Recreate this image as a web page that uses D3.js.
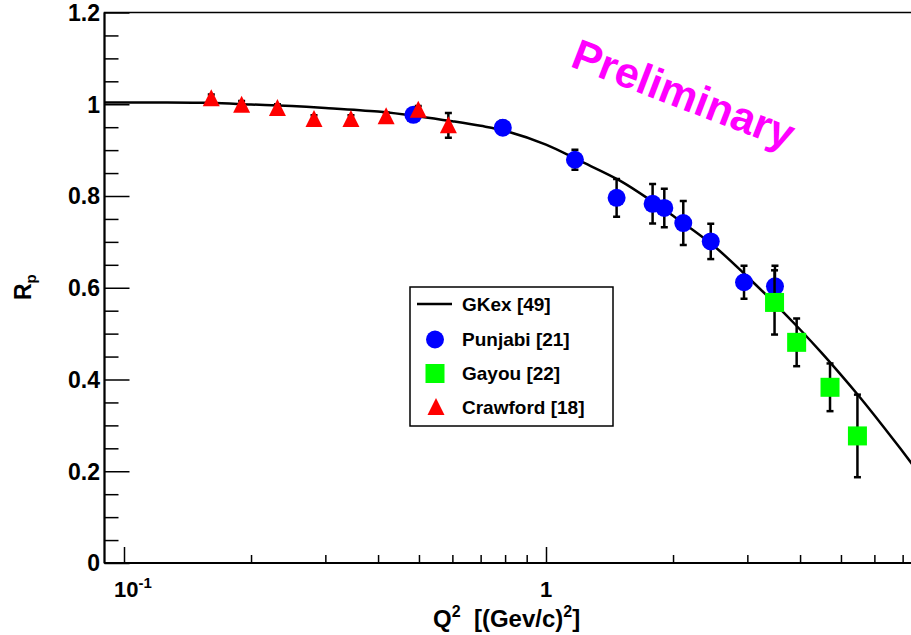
<!DOCTYPE html>
<html>
<head>
<meta charset="utf-8">
<script src="https://cdn.jsdelivr.net/npm/d3@7"></script>
<style>
  html, body { margin: 0; padding: 0; background: #fff; }
  svg { display: block; }
  text { font-family: "Liberation Sans", Arial, Helvetica, sans-serif; font-weight: bold; }
</style>
</head>
<body>
<svg id="chart" width="911" height="635"></svg>
<script>
// ---------------- data ----------------
const curveQ2 = [0.09, 0.12, 0.16, 0.2, 0.25, 0.3, 0.4, 0.5, 0.6, 0.7, 0.8, 1.0, 1.2, 1.5, 1.8, 2.0, 2.5, 3.0, 3.5, 4.0, 4.5, 5.0, 5.5, 6.0, 6.5, 7.0, 7.5];
const curveR  = [1.004, 1.004, 1.003, 0.9995, 0.996, 0.992, 0.984, 0.9735, 0.963, 0.953, 0.942, 0.912, 0.877, 0.833, 0.786, 0.757, 0.691, 0.624, 0.564, 0.509, 0.458, 0.410, 0.365, 0.322, 0.281, 0.243, 0.206];

const punjabiQ2  = [0.485, 0.790, 1.171, 1.47, 1.789, 1.907, 2.115, 2.457, 2.946, 3.488];
const punjabiR   = [0.977, 0.949, 0.879, 0.796, 0.783, 0.774, 0.741, 0.701, 0.612, 0.603];
const punjabiErr = [0.010, 0.015, 0.022, 0.041, 0.043, 0.042, 0.048, 0.0385, 0.036, 0.045];

const gayouQ2  = [3.48, 3.926, 4.71, 5.47];
const gayouR   = [0.568, 0.481, 0.383, 0.277];
const gayouErr = [0.070, 0.052, 0.052, 0.090];

const crawfordQ2  = [0.161, 0.190, 0.231, 0.282, 0.345, 0.418, 0.498, 0.587];
const crawfordR   = [1.013, 0.999, 0.992, 0.968, 0.968, 0.974, 0.988, 0.954];
const crawfordErr = [0.008, 0.008, 0.008, 0.008, 0.008, 0.008, 0.008, 0.027];

const yMajorTicks = [0, 0.2, 0.4, 0.6, 0.8, 1, 1.2];
const yTickLabels = ["0", "0.2", "0.4", "0.6", "0.8", "1", "1.2"];
const xMajorTicks = [0.1, 1];
const xMinorTicks = [0.2, 0.3, 0.4, 0.5, 0.6, 0.7, 0.8, 0.9, 2, 3, 4, 5, 6, 7];

const legendLabels = ["GKex [49]", "Punjabi [21]", "Gayou [22]", "Crawford [18]"];

// ---------------- layout ----------------
(function () {
const svg = d3.select("#chart");
const pLeft = 104.5, pTop = 12.5, pBottom = 563;
const decade = 422;
const x = d3.scaleLog().domain([0.09, 8])
  .range([124 - decade * (Math.log10(0.1) - Math.log10(0.09)), 124 + decade * (Math.log10(8) - Math.log10(0.1))]);
const y = d3.scaleLinear().domain([0, 1.2]).range([pBottom, pTop]);
const pRight = x(8);

svg.append("defs").append("clipPath").attr("id", "plotclip")
  .append("rect").attr("x", pLeft).attr("y", pTop).attr("width", pRight - pLeft).attr("height", pBottom - pTop);

// frame
svg.append("rect").attr("x", pLeft).attr("y", pTop).attr("width", pRight - pLeft).attr("height", pBottom - pTop)
  .attr("fill", "none").attr("stroke", "#000").attr("stroke-width", 1.5);

// y axis ticks
const yMinor = d3.range(0, 1.2001, 0.05).filter(v => !yMajorTicks.some(m => Math.abs(m - v) < 1e-6));
svg.append("g").attr("transform", `translate(${pLeft},0)`)
  .call(d3.axisRight(y).tickValues(yMajorTicks).tickSize(25).tickFormat(""))
  .call(g => g.select(".domain").remove())
  .call(g => g.selectAll("line").attr("stroke-width", 1.5));
svg.append("g").attr("transform", `translate(${pLeft},0)`)
  .call(d3.axisRight(y).tickValues(yMinor).tickSize(14).tickFormat(""))
  .call(g => g.select(".domain").remove())
  .call(g => g.selectAll("line").attr("stroke-width", 1.5));
svg.append("line").attr("x1", pLeft).attr("x2", pLeft).attr("y1", pTop).attr("y2", pBottom)
  .attr("stroke", "#000").attr("stroke-width", 2);

// y tick labels
svg.append("g").selectAll("text").data(yMajorTicks).join("text")
  .attr("x", 100).attr("y", d => y(d)).attr("dy", "0.36em")
  .attr("text-anchor", "end").attr("font-size", 23).text((d, i) => yTickLabels[i]);

// x axis ticks
svg.append("g").attr("transform", `translate(0,${pBottom})`)
  .call(d3.axisBottom(x).tickValues(xMajorTicks).tickSize(-16).tickFormat(""))
  .call(g => g.select(".domain").remove())
  .call(g => g.selectAll("line").attr("stroke-width", 1.5));
svg.append("g").attr("transform", `translate(0,${pBottom})`)
  .call(d3.axisBottom(x).tickValues(xMinorTicks).tickSize(-8).tickFormat(""))
  .call(g => g.select(".domain").remove())
  .call(g => g.selectAll("line").attr("stroke-width", 1.5));
svg.append("line").attr("x1", pLeft).attr("x2", pRight).attr("y1", pBottom).attr("y2", pBottom)
  .attr("stroke", "#000").attr("stroke-width", 2);

// x tick labels
const t01 = svg.append("text").attr("x", x(0.1) - 10).attr("y", 597).attr("font-size", 22);
t01.append("tspan").text("10");
t01.append("tspan").attr("dy", -9).attr("font-size", 15).text("-1");
svg.append("text").attr("x", x(1)).attr("y", 597).attr("text-anchor", "middle").attr("font-size", 22).text("1");

// axis titles
const xt = svg.append("text").attr("x", 433).attr("y", 627).attr("font-size", 24);
xt.append("tspan").text("Q");
xt.append("tspan").attr("dy", -10).attr("font-size", 16).text("2");
xt.append("tspan").attr("dy", 10).text("\u00a0\u00a0[(Gev/c)");
xt.append("tspan").attr("dy", -10).attr("font-size", 16).text("2");
xt.append("tspan").attr("dy", 10).text("]");

const yt = svg.append("text").attr("transform", "translate(31,300) rotate(-90)").attr("font-size", 23);
yt.append("tspan").text("R");
yt.append("tspan").attr("dy", 5).attr("font-size", 15).text("p");

// Preliminary
svg.append("text").attr("transform", "translate(569,66) rotate(21)")
  .attr("font-size", 43).attr("fill", "#ff00ff").text("Preliminary");

// ---------------- plot content ----------------
const plot = svg.append("g").attr("clip-path", "url(#plotclip)");

const curveData = curveQ2.map((q, i) => [q, curveR[i]]);
plot.append("path").datum(curveData)
  .attr("fill", "none").attr("stroke", "#000").attr("stroke-width", 2.5)
  .attr("d", d3.line().x(d => x(d[0])).y(d => y(d[1])).curve(d3.curveCatmullRom));

function errorBars(q2, r, err) {
  const data = q2.map((q, i) => ({q, r: r[i], e: err[i]}));
  const g = plot.append("g").attr("stroke", "#000").attr("stroke-width", 2.5);
  g.selectAll("line.v").data(data).join("line").attr("class", "v")
    .attr("x1", d => x(d.q)).attr("x2", d => x(d.q))
    .attr("y1", d => y(d.r - d.e)).attr("y2", d => y(d.r + d.e));
  g.selectAll("line.t").data(data).join("line").attr("class", "t")
    .attr("x1", d => x(d.q) - 3.5).attr("x2", d => x(d.q) + 3.5)
    .attr("y1", d => y(d.r + d.e)).attr("y2", d => y(d.r + d.e));
  g.selectAll("line.b").data(data).join("line").attr("class", "b")
    .attr("x1", d => x(d.q) - 3.5).attr("x2", d => x(d.q) + 3.5)
    .attr("y1", d => y(d.r - d.e)).attr("y2", d => y(d.r - d.e));
  return data;
}

function triPath(cx, cy) {
  return `M${cx},${cy - 9}L${cx + 8.5},${cy + 8}L${cx - 8.5},${cy + 8}Z`;
}

const pData = errorBars(punjabiQ2, punjabiR, punjabiErr);
plot.append("g").selectAll("circle").data(pData).join("circle")
  .attr("cx", d => x(d.q)).attr("cy", d => y(d.r)).attr("r", 9).attr("fill", "#0000ff");

const gData = errorBars(gayouQ2, gayouR, gayouErr);
plot.append("g").selectAll("rect").data(gData).join("rect")
  .attr("x", d => x(d.q) - 9.5).attr("y", d => y(d.r) - 9.5).attr("width", 19).attr("height", 19)
  .attr("fill", "#00ff00");

const cData = errorBars(crawfordQ2, crawfordR, crawfordErr);
plot.append("g").selectAll("path").data(cData).join("path")
  .attr("d", d => triPath(x(d.q), y(d.r))).attr("fill", "#ff0000");

// ---------------- legend ----------------
const lg = svg.append("g");
lg.append("rect").attr("x", 410).attr("y", 287).attr("width", 203).attr("height", 139)
  .attr("fill", "#fff").attr("stroke", "#000").attr("stroke-width", 1.5);
const rowY = [304, 339.5, 373.5, 407];
lg.append("line").attr("x1", 417).attr("x2", 452).attr("y1", rowY[0]).attr("y2", rowY[0])
  .attr("stroke", "#000").attr("stroke-width", 2.5);
lg.append("circle").attr("cx", 435).attr("cy", rowY[1]).attr("r", 9).attr("fill", "#0000ff");
lg.append("rect").attr("x", 425.5).attr("y", rowY[2] - 9.5).attr("width", 19).attr("height", 19).attr("fill", "#00ff00");
lg.append("path").attr("d", triPath(436, rowY[3])).attr("fill", "#ff0000");
lg.selectAll("text").data(legendLabels).join("text")
  .attr("x", 462).attr("y", (d, i) => rowY[i]).attr("dy", "0.36em")
  .attr("font-size", 19).text(d => d);
})();
</script>
</body>
</html>
